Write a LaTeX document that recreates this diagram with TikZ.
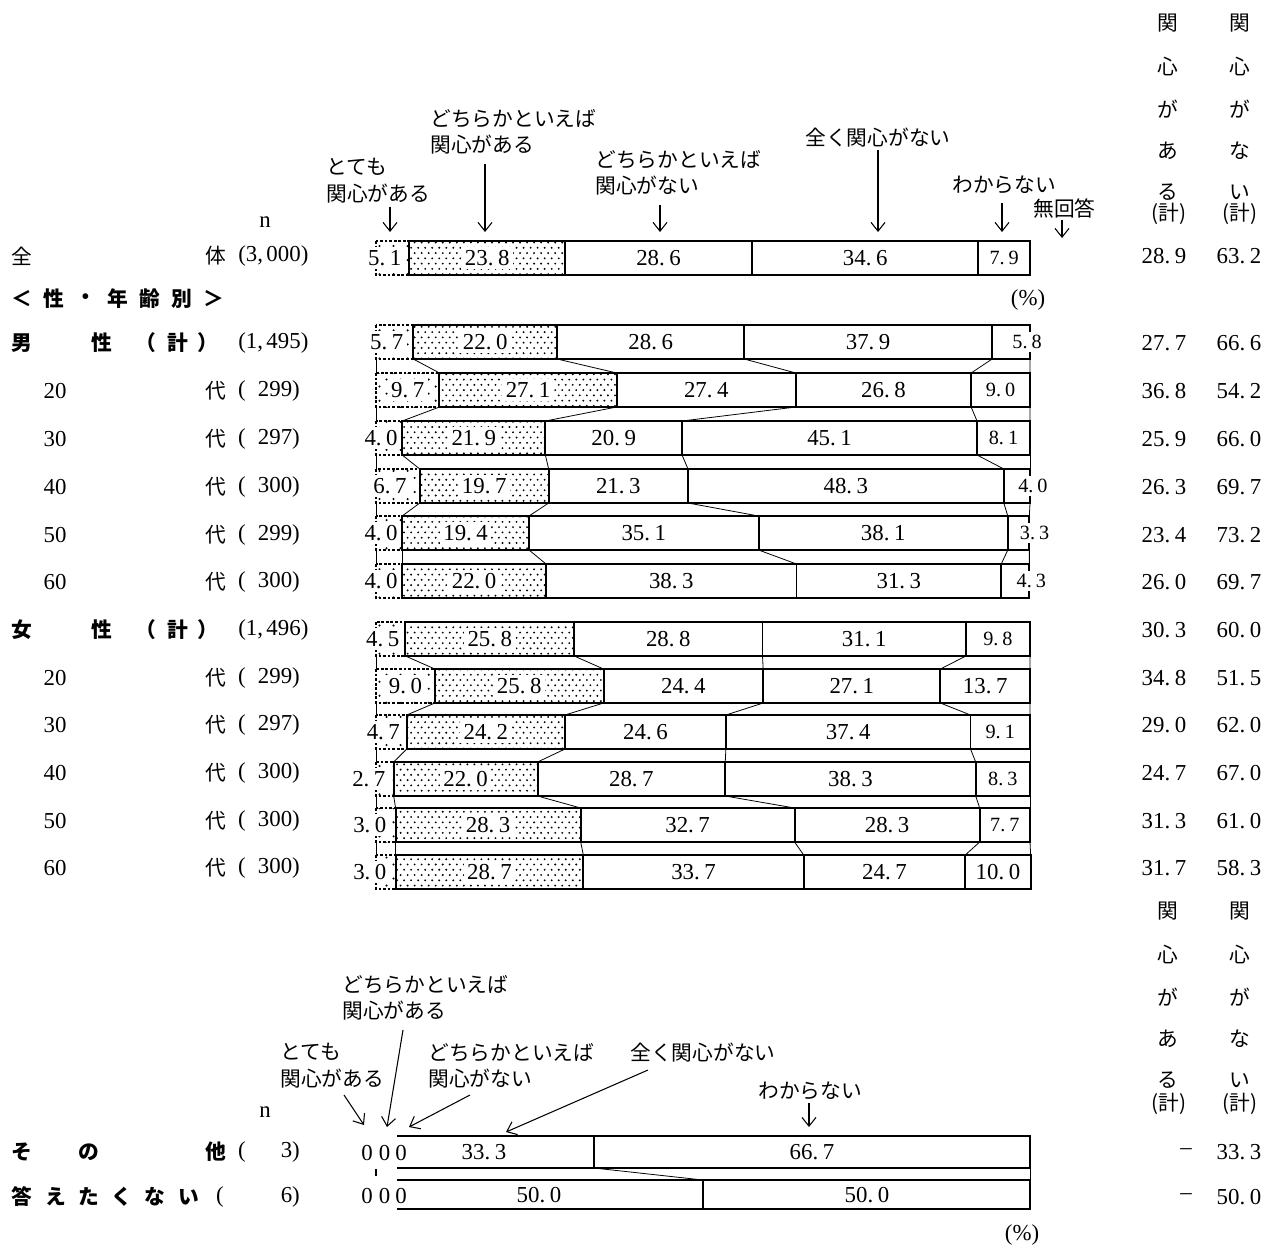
\documentclass[tikz,border=0pt]{standalone}
\usepackage{fontspec}
\setmainfont{Liberation Serif}
\newfontfamily\jpfont{Noto Sans CJK JP}
\usetikzlibrary{patterns,arrows.meta}

\pgfdeclarepatternformonly{sparsedots}{\pgfqpoint{-1pt}{-1pt}}{\pgfqpoint{5pt}{5pt}}{\pgfqpoint{8pt}{8pt}}{%
  \pgfpathcircle{\pgfqpoint{0pt}{0pt}}{0.65pt}%
  \pgfpathcircle{\pgfqpoint{4pt}{4pt}}{0.65pt}%
  \pgfusepath{fill}}
\pgfdeclarepatternformonly{densedots}{\pgfqpoint{-1pt}{-1pt}}{\pgfqpoint{3pt}{4pt}}{\pgfqpoint{4pt}{6pt}}{%
  \pgfpathcircle{\pgfqpoint{0pt}{0pt}}{0.6pt}%
  \pgfpathcircle{\pgfqpoint{2pt}{3pt}}{0.6pt}%
  \pgfusepath{fill}}

% wide decimal point as in the printed numbers
\def\pnum#1{\expandafter\pnumi#1\relax}
\def\pnumi#1.#2\relax{#1.\kern.2em#2}

\begin{document}
\begin{tikzpicture}[x=0.02cm, y=-0.02cm,
	font=\fontsize{13}{15}\selectfont,
	jtxt/.style={font=\fontsize{11.8}{15}\selectfont\jpfont, inner sep=0pt, align=left},
	jbold/.style={font=\fontsize{11.8}{15}\selectfont\jpfont\bfseries, inner sep=0pt},
	segbox/.style={draw, line width=1.1pt},
	seg1/.style={segbox, pattern=sparsedots, dash pattern=on 1.6pt off 1pt},
	seg2/.style={segbox, pattern=densedots},
	vlab/.style={inner sep=1pt},
	plab/.style={vlab, fill=white, inner sep=2pt},
	link/.style={line width=0.45pt},
	arr/.style={line width=0.6pt, -{Straight Barb[length=5pt,width=8pt]}},
	]
	\useasboundingbox (0,0) rectangle (1274,1244);
	
	% headers above the bars
	\node[jtxt, anchor=north west] (h1) at (326,158) {とても\\関心がある};
	\node[jtxt, anchor=north west] (h2) at (430,109) {どちらかといえば\\関心がある};
	\node[jtxt, anchor=north west] (h3) at (595,150) {どちらかといえば\\関心がない};
	\node[jtxt, anchor=north west] (h4) at (805,128) {全く関心がない};
	\node[jtxt, anchor=north west] (h5) at (952,176) {わからない};
	\node[jtxt, anchor=north west] (h6) at (1033,198) {無回答};
	\coordinate (p1) at (390,232);
	\coordinate (p2) at (485,232);
	\coordinate (p3) at (660,232);
	\coordinate (p4) at (878,232);
	\coordinate (p5) at (1002,232);
	\coordinate (p6) at (1062,238);
	\draw[arr] ([yshift=-2pt]h1.south -| p1) -- (p1);
	\draw[arr] ([yshift=-5pt]h2.south -| p2) -- (p2);
	\draw[arr] ([yshift=-5pt]h3.south -| p3) -- (p3);
	\draw[arr] ([yshift=-1pt]h4.south -| p4) -- (p4);
	\draw[arr] ([yshift=-5pt]h5.south -| p5) -- (p5);
	\draw[arr] ([yshift=-1pt]h6.south -| p6) -- (p6);
	\node (n1) at (265,222) {n};
	\node (pc1) at (1028,300) {(\%)};
	
	% vertical column heads
	\foreach \ch/\yy [count=\i] in {関/23,心/67,が/109,あ/151,る/192}{
		\node[jtxt] (ca\i) at (1168,\yy) {\ch};
		\node[jtxt] (cb\i) at (1168,\yy+888) {\ch};
	}
	\foreach \ch/\yy [count=\i] in {関/23,心/67,が/109,な/151,い/192}{
		\node[jtxt] (cc\i) at (1240,\yy) {\ch};
		\node[jtxt] (cd\i) at (1240,\yy+888) {\ch};
	}
	\node[jtxt] (ca6) at (1169,214) {(計)};
	\node[jtxt] (cc6) at (1240,214) {(計)};
	\node[jtxt] (cb6) at (1169,1104) {(計)};
	\node[jtxt] (cd6) at (1240,1104) {(計)};
	
	% bars
	\foreach \nm/\yy/\va/\vb/\vc/\vd/\ve in {all/258/5.1/23.8/28.6/34.6/7.9,
		m/342/5.7/22.0/28.6/37.9/5.8, m20/390/9.7/27.1/27.4/26.8/9.0,
		m30/438/4.0/21.9/20.9/45.1/8.1, m40/486/6.7/19.7/21.3/48.3/4.0,
		m50/533/4.0/19.4/35.1/38.1/3.3, m60/581/4.0/22.0/38.3/31.3/4.3,
		f/639/4.5/25.8/28.8/31.1/9.8, f20/686/9.0/25.8/24.4/27.1/13.7,
		f30/732/4.7/24.2/24.6/37.4/9.1, f40/779/2.7/22.0/28.7/38.3/8.3,
		f50/825/3.0/28.3/32.7/28.3/7.7, f60/872/3.0/28.7/33.7/24.7/10.0}{
		\pgfmathsetmacro\xa{376+6.54*\va}
		\pgfmathsetmacro\xb{\xa+6.54*\vb}
		\pgfmathsetmacro\xc{\xb+6.54*\vc}
		\pgfmathsetmacro\xd{\xc+6.54*\vd}
		\pgfmathsetmacro\xe{\xd+6.54*\ve}
		\foreach \k/\xx in {0/376,1/\xa,2/\xb,3/\xc,4/\xd,5/\xe}{
			\coordinate (\nm-t\k) at (\xx,\yy-17);
			\coordinate (\nm-b\k) at (\xx,\yy+17);
		}
		\draw[seg1] (\nm-t0) rectangle (\nm-b1);
		\draw[seg2] (\nm-t1) rectangle (\nm-b2);
		\draw[segbox] (\nm-t2) rectangle (\nm-b3);
		\draw[segbox] (\nm-t3) rectangle (\nm-b4);
		\draw[segbox] (\nm-t4) rectangle (\nm-b5);
		\pgfmathsetmacro\la{\va<4 ? (376+\xa)/2-16 : (\va<8 ? (376+\xa)/2-8 : (376+\xa)/2)}
		\pgfmathsetmacro\le{\ve<7 ? (\xd+\xe)/2+16 : (\xd+\xe)/2}
		\pgfmathsetmacro\fs{\ve<10 ? 11.5 : 13}
		\node[plab] (\nm-v1) at (\la,\yy) {\pnum\va};
		\node[plab] (\nm-v2) at ({(\xa+\xb)/2},\yy) {\pnum\vb};
		\node[vlab] (\nm-v3) at ({(\xb+\xc)/2},\yy) {\pnum\vc};
		\node[vlab] (\nm-v4) at ({(\xc+\xd)/2},\yy) {\pnum\vd};
		\node[plab, font=\fontsize{\fs}{13}\selectfont] (\nm-v5) at (\le,\yy) {\pnum\ve};
	}
	% links between bars
	\foreach \u/\v in {m/m20,m20/m30,m30/m40,m40/m50,m50/m60,f/f20,f20/f30,f30/f40,f40/f50,f50/f60}{
		\foreach \k in {0,...,5}
		\draw[link] (\u-b\k) -- (\v-t\k);
	}
	
	% row labels
	\node[jtxt] (all-l1) at (22,256) {全};
	\node[jtxt] (all-l2) at (216,256) {体};
	\node[anchor=west, inner sep=0pt] (all-n) at (238,256) {(3,\kern.15em000)};
	\foreach \ch/\xx in {＜/22,性/54,・/86,年/118,齢/150,別/182,＞/214}
	\node[jbold] (sec-\xx) at (\xx,299) {\ch};
	\foreach \ch/\xx in {男/22,性/102,（/146,計/178,）/208}
	\node[jbold] (m-l\xx) at (\xx,343) {\ch};
	\node[anchor=west, inner sep=0pt] (m-n) at (238,343) {(1,\kern.15em495)};
	\foreach \ch/\xx in {女/22,性/102,（/146,計/178,）/208}
	\node[jbold] (f-l\xx) at (\xx,630) {\ch};
	\node[anchor=west, inner sep=0pt] (f-n) at (238,630) {(1,\kern.15em496)};
	\foreach \nm/\yy/\ag/\cnt in {m20/391/20/299, m30/439/30/297, m40/487/40/300,
		m50/535/50/299, m60/582/60/300, f20/678/20/299, f30/725/30/297,
		f40/773/40/300, f50/821/50/300, f60/868/60/300}{
		\node (\nm-age) at (55,\yy) {\ag};
		\node[jtxt] (\nm-dai) at (216,\yy) {代};
		\node (\nm-op) at (242,\yy) {(};
		\node[anchor=east] (\nm-n) at (306,\yy) {\cnt)};
	}
	% totals on the right
	\foreach \nm/\yy/\p/\q in {all/256/28.9/63.2, m/343/27.7/66.6, m20/391/36.8/54.2,
		m30/439/25.9/66.0, m40/487/26.3/69.7, m50/535/23.4/73.2, m60/582/26.0/69.7,
		f/630/30.3/60.0, f20/678/34.8/51.5, f30/725/29.0/62.0, f40/773/24.7/67.0,
		f50/821/31.3/61.0, f60/868/31.7/58.3}{
		\node (\nm-in) at (1164,\yy) {\pnum\p};
		\node (\nm-out) at (1239,\yy) {\pnum\q};
	}
	
	% lower block
	\node[jtxt, anchor=north west] (b1) at (280,1043) {とても\\関心がある};
	\node[jtxt, anchor=north west] (b2) at (342,975) {どちらかといえば\\関心がある};
	\node[jtxt, anchor=north west] (b3) at (428,1043) {どちらかといえば\\関心がない};
	\node[jtxt, anchor=north west] (b4) at (630,1043) {全く関心がない};
	\node[jtxt, anchor=north west] (b5) at (758,1082) {わからない};
	\coordinate (b1s) at (344,1095); \coordinate (b1e) at (364,1125);
	\coordinate (b2s) at (403,1030); \coordinate (b2e) at (387,1127);
	\coordinate (b3s) at (470,1095); \coordinate (b3e) at (409,1127);
	\coordinate (b4s) at (648,1070); \coordinate (b4e) at (506,1132);
	\coordinate (b5s) at (809,1103); \coordinate (b5e) at (809,1127);
	\foreach \i in {1,...,5} \draw[arr] (b\i s) -- (b\i e);
	\node (n2) at (265,1112) {n};
	\node (pc2) at (1022,1235) {(\%)};
	
	\coordinate (o-t3) at (397,1136); \coordinate (o-b3) at (397,1168);
	\coordinate (o-t4) at (594,1136); \coordinate (o-b4) at (594,1168);
	\coordinate (o-t5) at (1030,1136); \coordinate (o-b5) at (1030,1168);
	\coordinate (x-t3) at (397,1180); \coordinate (x-b3) at (397,1209);
	\coordinate (x-t4) at (703,1180); \coordinate (x-b4) at (703,1209);
	\coordinate (x-t5) at (1030,1180); \coordinate (x-b5) at (1030,1209);
	\foreach \nm in {o,x}{
		\draw[segbox] (\nm-t3) -- (\nm-t5) -- (\nm-b5) -- (\nm-b3);
		\draw[segbox] (\nm-t4) -- (\nm-b4);
	}
	\draw[link] (o-b4) -- (x-t4);
	\draw[link] (o-b5) -- (x-t5);
	\coordinate (o-k) at (376,1169); \coordinate (x-k) at (376,1176);
	\draw[line width=1pt] (o-k) -- (x-k);
	\foreach \nm/\yy in {o/1153,x/1196}{
		\node[vlab] (\nm-z1) at (367,\yy) {0};
		\node[vlab] (\nm-z2) at (384.5,\yy) {0};
		\node[vlab] (\nm-z3) at (401,\yy) {0};
	}
	\node[vlab] (o-v4) at (484,1152) {\pnum{33.3}};
	\node[vlab] (o-v5) at (812,1152) {\pnum{66.7}};
	\node[vlab] (x-v4) at (539,1195) {\pnum{50.0}};
	\node[vlab] (x-v5) at (867,1195) {\pnum{50.0}};
	
	\foreach \ch/\xx in {そ/22,の/89,他/216}
	\node[jbold] (o-l\xx) at (\xx,1152) {\ch};
	\node (o-op) at (242,1152) {(};
	\node[anchor=east] (o-n) at (306,1152) {3)};
	\foreach \ch/\xx in {答/22,え/56,た/89,く/122,な/155,い/189}
	\node[jbold] (x-l\xx) at (\xx,1197) {\ch};
	\node (x-op) at (220,1197) {(};
	\node[anchor=east] (x-n) at (306,1197) {6)};
	\node (o-in) at (1186,1152) {–};
	\node (o-out) at (1239,1152) {\pnum{33.3}};
	\node (x-in) at (1186,1197) {–};
	\node (x-out) at (1239,1197) {\pnum{50.0}};
\end{tikzpicture}
\end{document}
